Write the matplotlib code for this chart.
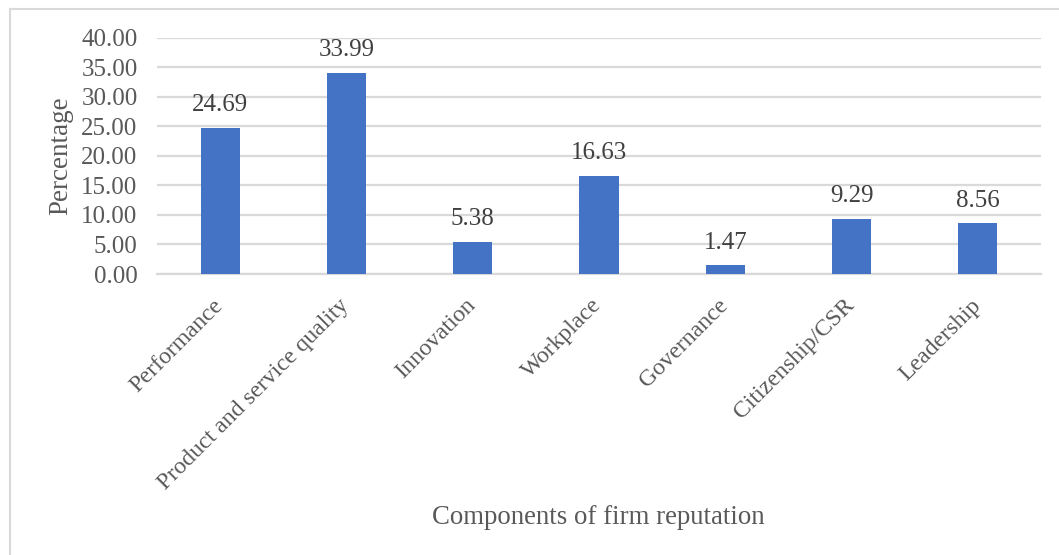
import matplotlib
matplotlib.use("Agg")
import matplotlib.pyplot as plt
import matplotlib.transforms as mtransforms
from matplotlib.lines import Line2D

categories = ["Performance", "Product and service quality", "Innovation",
              "Workplace", "Governance", "Citizenship/CSR", "Leadership"]
values = [24.69, 33.99, 5.38, 16.63, 1.47, 9.29, 8.56]
y_ticks = [0, 5, 10, 15, 20, 25, 30, 35, 40]

plt.rcParams["font.family"] = ["Liberation Serif", "DejaVu Serif"]
text_color = "#595959"
grid_color = "#d9d9d9"
bar_color = "#4472C4"

fig = plt.figure(figsize=(10.59, 5.55), dpi=100)
ax = fig.add_axes([157 / 1059, 1 - 274 / 555, (1041 - 157) / 1059, (274 - 37.7) / 555])

x = list(range(len(categories)))
bars = ax.bar(x, values, width=0.311, color=bar_color, zorder=3)

for xi, v in zip(x, values):
    ax.annotate(f"{v:.2f}", (xi, v), xytext=(0, 8.5), textcoords="offset points",
                ha="center", va="bottom", fontsize=18, color="#404040")

ax.set_xlim(-0.5, len(categories) - 0.5)
ax.set_ylim(0, 40)
ax.set_yticks(y_ticks)
ax.set_yticklabels([f"{t:.2f}" for t in y_ticks])
ax.yaxis.grid(True, color=grid_color, linewidth=1.6, zorder=0)
ax.set_axisbelow(True)
for s in ["top", "right", "left"]:
    ax.spines[s].set_visible(False)
ax.spines["bottom"].set_color(grid_color)
ax.spines["bottom"].set_linewidth(1.6)
ax.tick_params(axis="y", length=0, pad=14, labelsize=18, labelcolor=text_color)
ax.tick_params(axis="x", length=0, pad=15, labelsize=17.2, labelcolor=text_color)

ax.set_xticks(x)
ax.set_xticklabels(categories, rotation=45, ha="right", va="top", rotation_mode="anchor")
shift = mtransforms.ScaledTranslation(-8 / 100, 0, fig.dpi_scale_trans)
for lbl in ax.get_xticklabels():
    lbl.set_transform(lbl.get_transform() + shift)

ax.set_ylabel("Percentage", fontsize=19.5, color=text_color, labelpad=6)
fig.text(598 / 1059, 1 - 517 / 555, "Components of firm reputation",
         ha="center", va="center", fontsize=19.3, color=text_color)

# chart frame
fig.add_artist(Line2D([10 / 1059, 10 / 1059], [0, 1 - 8.5 / 555],
                      transform=fig.transFigure, color=grid_color, linewidth=1.5))
fig.add_artist(Line2D([10 / 1059, 1], [1 - 8.5 / 555, 1 - 8.5 / 555],
                      transform=fig.transFigure, color=grid_color, linewidth=1.5))

fig.savefig("out.png", dpi=100)
